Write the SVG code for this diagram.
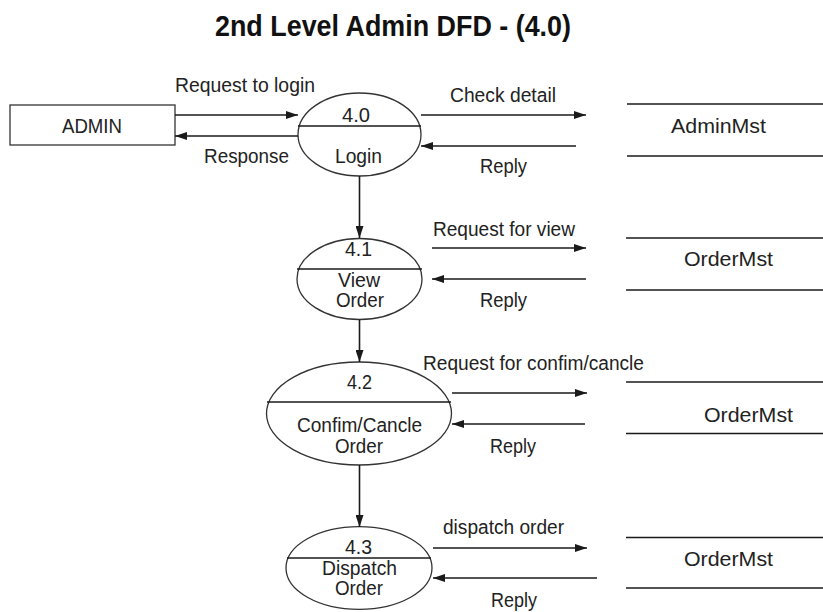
<svg xmlns="http://www.w3.org/2000/svg" width="823" height="612" viewBox="0 0 823 612">
  <defs>
    <marker id="arrow" markerWidth="12" markerHeight="8" refX="12" refY="4" orient="auto" markerUnits="userSpaceOnUse">
      <path d="M0,0 L12,4 L0,8 z" fill="#1a1a1a"/>
    </marker>
    <style>
      .shape { fill: #ffffff; stroke: #333333; stroke-width: 1.3; }
      .rule { stroke: #1a1a1a; stroke-width: 1.6; fill: none; }
      .flow { stroke: #1a1a1a; stroke-width: 1.6; fill: none; marker-end: url(#arrow); }
      .lbl { font-family: "Liberation Sans", Arial, sans-serif; font-size: 19.5px; fill: #222222; }
      .title { font-family: "Liberation Sans", Arial, sans-serif; font-size: 29px; font-weight: bold; fill: #111111; }
    </style>
  </defs>

  <rect width="823" height="612" fill="#ffffff"/>

  <text class="title" x="215" y="36" textLength="356" lengthAdjust="spacingAndGlyphs">2nd Level Admin DFD - (4.0)</text>

  <!-- External entity -->
  <g id="admin">
    <rect class="shape" x="10" y="105" width="165" height="40"/>
    <text class="lbl" x="62" y="133" textLength="60" lengthAdjust="spacingAndGlyphs">ADMIN</text>
  </g>

  <!-- Processes -->
  <g id="p40">
    <ellipse class="shape" cx="359.5" cy="134.5" rx="61.5" ry="41.5"/>
    <line class="rule" x1="298" y1="126" x2="421" y2="126"/>
    <text class="lbl" x="342" y="122" textLength="28" lengthAdjust="spacingAndGlyphs">4.0</text>
    <text class="lbl" x="335" y="163" textLength="47" lengthAdjust="spacingAndGlyphs">Login</text>
  </g>

  <g id="p41">
    <ellipse class="shape" cx="359.5" cy="279" rx="62.5" ry="40.5"/>
    <line class="rule" x1="297" y1="269" x2="422" y2="269"/>
    <text class="lbl" x="345" y="256" textLength="27" lengthAdjust="spacingAndGlyphs">4.1</text>
    <text class="lbl" x="338" y="287" textLength="42" lengthAdjust="spacingAndGlyphs">View</text>
    <text class="lbl" x="336" y="307" textLength="48" lengthAdjust="spacingAndGlyphs">Order</text>
  </g>

  <g id="p42">
    <ellipse class="shape" cx="359" cy="413.5" rx="92.5" ry="51.5"/>
    <line class="rule" x1="267" y1="402" x2="451" y2="402"/>
    <text class="lbl" x="347" y="389" textLength="25" lengthAdjust="spacingAndGlyphs">4.2</text>
    <text class="lbl" x="297" y="432" textLength="125" lengthAdjust="spacingAndGlyphs">Confim/Cancle</text>
    <text class="lbl" x="335" y="453" textLength="48" lengthAdjust="spacingAndGlyphs">Order</text>
  </g>

  <g id="p43">
    <ellipse class="shape" cx="359" cy="568" rx="73" ry="41.3"/>
    <line class="rule" x1="287" y1="558" x2="431" y2="558"/>
    <text class="lbl" x="345" y="554" textLength="27" lengthAdjust="spacingAndGlyphs">4.3</text>
    <text class="lbl" x="322" y="575" textLength="75" lengthAdjust="spacingAndGlyphs">Dispatch</text>
    <text class="lbl" x="335" y="595" textLength="48" lengthAdjust="spacingAndGlyphs">Order</text>
  </g>

  <!-- Data stores -->
  <g id="store-admin">
    <line class="rule" x1="627" y1="104" x2="823" y2="104"/>
    <line class="rule" x1="627" y1="156" x2="823" y2="156"/>
    <text class="lbl" x="671" y="133" textLength="95" lengthAdjust="spacingAndGlyphs">AdminMst</text>
  </g>

  <g id="store-order-1">
    <line class="rule" x1="626" y1="238" x2="823" y2="238"/>
    <line class="rule" x1="626" y1="290" x2="823" y2="290"/>
    <text class="lbl" x="684" y="266" textLength="89" lengthAdjust="spacingAndGlyphs">OrderMst</text>
  </g>

  <g id="store-order-2">
    <line class="rule" x1="626" y1="382" x2="823" y2="382"/>
    <line class="rule" x1="626" y1="433.5" x2="823" y2="433.5"/>
    <text class="lbl" x="704" y="422" textLength="89" lengthAdjust="spacingAndGlyphs">OrderMst</text>
  </g>

  <g id="store-order-3">
    <line class="rule" x1="626" y1="537.5" x2="823" y2="537.5"/>
    <line class="rule" x1="626" y1="588" x2="823" y2="588"/>
    <text class="lbl" x="684" y="566" textLength="89" lengthAdjust="spacingAndGlyphs">OrderMst</text>
  </g>

  <!-- Data flows -->
  <g id="connectors">
    <line class="flow" x1="175" y1="115" x2="298" y2="115"/>
    <line class="flow" x1="298" y1="136" x2="175" y2="136"/>
    <line class="flow" x1="421" y1="115" x2="586" y2="115"/>
    <line class="flow" x1="576" y1="146" x2="421" y2="146"/>

    <line class="flow" x1="359.5" y1="176" x2="359.5" y2="238"/>
    <line class="flow" x1="432" y1="248" x2="586" y2="248"/>
    <line class="flow" x1="586" y1="279" x2="432" y2="279"/>

    <line class="flow" x1="359.5" y1="319.5" x2="359.5" y2="362"/>
    <line class="flow" x1="452" y1="393" x2="587" y2="393"/>
    <line class="flow" x1="585" y1="424" x2="452" y2="424"/>

    <line class="flow" x1="359.5" y1="465" x2="359.5" y2="527"/>
    <line class="flow" x1="433" y1="548" x2="587" y2="548"/>
    <line class="flow" x1="597" y1="578" x2="433" y2="578"/>

    <text class="lbl" x="175" y="92" textLength="140" lengthAdjust="spacingAndGlyphs">Request to login</text>
    <text class="lbl" x="204" y="163" textLength="85" lengthAdjust="spacingAndGlyphs">Response</text>
    <text class="lbl" x="450" y="102" textLength="106" lengthAdjust="spacingAndGlyphs">Check detail</text>
    <text class="lbl" x="480" y="173" textLength="47" lengthAdjust="spacingAndGlyphs">Reply</text>
    <text class="lbl" x="433" y="236" textLength="142" lengthAdjust="spacingAndGlyphs">Request for view</text>
    <text class="lbl" x="480" y="307" textLength="47" lengthAdjust="spacingAndGlyphs">Reply</text>
    <text class="lbl" x="423" y="370" textLength="221" lengthAdjust="spacingAndGlyphs">Request for confim/cancle</text>
    <text class="lbl" x="490" y="453" textLength="46" lengthAdjust="spacingAndGlyphs">Reply</text>
    <text class="lbl" x="443" y="534" textLength="121" lengthAdjust="spacingAndGlyphs">dispatch order</text>
    <text class="lbl" x="491" y="607" textLength="46" lengthAdjust="spacingAndGlyphs">Reply</text>
  </g>
</svg>
